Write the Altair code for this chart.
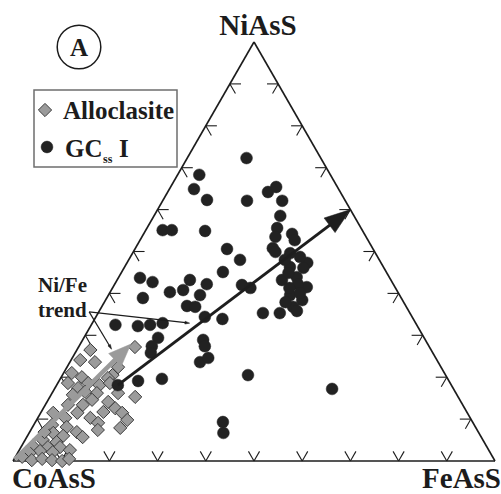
import math
import altair as alt
import pandas as pd

# Plot area = bounding box of the ternary triangle (px)
W, H = 482, 419
PAD = {"left": 13, "top": 42, "right": 6, "bottom": 33}
SX, SY = W / 100.0, H / 100.0
FONT = "Liberation Serif"
INK = "#1c1c1c"

# Alloclasite analyses: mol.% NiAsS and FeAsS (CoAsS = remainder)
allo_ni = [27.2, 26.5, 24.1, 23.6, 22.4, 20.5, 21.0, 20.0, 19.8, 18.6,
           17.4, 18.6, 18.1, 18.6, 16.2, 16.2, 15.3, 14.6, 14.1, 13.4,
           13.4, 12.6, 11.5, 11.5, 11.5, 10.3, 10.3, 9.8, 9.1, 8.6,
           8.1, 6.9, 7.9, 7.4, 6.7, 6.0, 5.7, 5.0, 4.5, 3.6,
           3.3, 3.3, 2.6, 2.4, 1.9, 2.1, 1.0, 0.2, 0.5, 0.2,
           0.0, 0.5, 15.8, 16.5, 11.7, 6.9]
allo_fe = [11.7, 2.8, 1.9, 5.2, 10.6, 10.4, 1.7, 4.3, 9.8, 2.1,
           4.8, 6.3, 8.9, 10.8, 9.3, 13.7, 17.7, 9.1, 12.7, 4.7,
           7.8, 14.9, 16.9, 2.6, 7.6, 5.7, 10.9, 18.8, 13.1, 3.8,
           7.1, 9.8, 18.3, 13.9, 5.0, 7.4, 11.6, 3.7, 6.8, 2.3,
           5.6, 8.1, 10.5, 4.4, 2.5, 7.2, 1.4, 3.8, 5.8, 8.0,
           10.2, 11.4, 4.5, 6.7, 12.9, 3.1]

# GCss I analyses: mol.% NiAsS and FeAsS
gc_ni = [68.3, 64.9, 62.3, 72.3, 62.1, 55.1, 55.1, 54.9, 64.2, 65.4,
         62.1, 58.5, 55.6, 53.5, 50.8, 54.2, 52.7, 50.6, 48.0, 45.1,
         42.7, 43.2, 40.3, 40.8, 42.2, 39.6, 42.0, 41.3, 37.0, 36.8,
         34.4, 33.9, 49.6, 47.3, 48.7, 46.3, 43.2, 43.9, 41.5, 38.4,
         36.8, 35.3, 35.3, 32.2, 32.5, 32.9, 32.5, 43.7, 38.9, 29.4,
         27.4, 25.8, 28.9, 27.4, 23.6, 24.6, 19.1, 19.6, 18.1, 9.3,
         6.7, 20.5, 17.2, 48.0, 46.1, 44.9, 42.2, 39.6, 40.1, 37.9,
         35.8, 41.3, 49.9]
gc_fe = [4.5, 5.1, 9.1, 12.3, 17.5, 3.5, 5.4, 12.4, 20.8, 21.9,
         24.8, 26.2, 27.0, 27.7, 28.5, 30.8, 32.1, 19.1, 23.1, 21.0,
         7.6, 15.1, 12.4, 14.9, 19.1, 19.0, 26.5, 28.6, 17.6, 19.4,
         22.6, 26.5, 32.7, 37.4, 35.2, 34.3, 34.2, 36.9, 40.2, 40.8,
         39.7, 37.7, 34.2, 9.8, 12.2, 14.6, 5.0, 4.5, 7.5, 15.4,
         15.1, 15.7, 25.0, 26.1, 27.0, 28.2, 16.4, 21.1, 12.7, 38.9,
         40.3, 38.5, 57.6, 32.4, 37.2, 34.7, 38.0, 37.7, 39.5, 37.6,
         41.0, 36.7, 29.5]

# Trend arrows: (Ni, Fe) of tail and head
gc_trend = [(18.1, 12.7), (60.0, 40.0)]
allo_trend = [(0.4, 0.2), (27.9, 10.5)]
label_origin = (35.6, -2.0)
label_targets = [(32.9, 20.2), (26.7, 7.1)]

tick_values = [10, 20, 30, 40, 50, 60, 70, 80, 90]
TICK = 2.3  # tick arm length, mol.%


def tern(ni, fe):
    """Ternary composition -> cartesian (x along base, y = NiAsS)."""
    return fe + ni / 2.0, ni


xs = alt.Scale(domain=[0, 100], nice=False, zero=False)
ys = alt.Scale(domain=[0, 100], nice=False, zero=False)
X = lambda f="x": alt.X(f"{f}:Q", scale=xs, axis=None)
Y = lambda f="y": alt.Y(f"{f}:Q", scale=ys, axis=None)


def segs(pairs):
    rows = []
    for (n0, f0), (n1, f1) in pairs:
        x0, y0 = tern(n0, f0)
        x1, y1 = tern(n1, f1)
        rows.append({"x": x0, "y": y0, "x2": x1, "y2": y1})
    return pd.DataFrame(rows)


def rules(df, width, color=INK, cap="butt"):
    return alt.Chart(df).mark_rule(strokeWidth=width, color=color, strokeCap=cap).encode(
        x=X(), y=Y(), x2="x2:Q", y2="y2:Q")


def arrow(tail, head, head_len, width, color, shape, size):
    x0, y0 = tern(*tail)
    x1, y1 = tern(*head)
    dxp, dyp = (x1 - x0) * SX, (y1 - y0) * SY
    L = math.hypot(dxp, dyp)
    ang = math.degrees(math.atan2(dxp, dyp)) % 360
    k = head_len / L
    shaft = pd.DataFrame([{"x": x0, "y": y0,
                           "x2": x1 - (x1 - x0) * k, "y2": y1 - (y1 - y0) * k}])
    tip = pd.DataFrame([{"x": x1, "y": y1}])
    line = rules(shaft, width, color)
    mk = alt.Chart(tip).mark_point(shape=shape, size=size, angle=ang, filled=True,
                                   fill=color, stroke=color, strokeWidth=0.5, opacity=1)
    return line + mk.encode(x=X(), y=Y())


# Triangle frame
frame = rules(segs([((0, 0), (0, 100)), ((0, 0), (100, 0)), ((0, 100), (100, 0))]), 1.6)

# Edge ticks, arms parallel to the other two sides
tick_pairs = []
for t in tick_values:
    base = (0, t)
    tick_pairs += [(base, (TICK, t)), (base, (TICK, t - TICK))]
    left = (t, 0)
    tick_pairs += [(left, (t, TICK)), (left, (t - TICK, TICK))]
    right = (t, 100 - t)
    tick_pairs += [(right, (t, 100 - t - TICK)), (right, (t - TICK, 100 - t))]
ticks = rules(segs(tick_pairs), 1.1)

allo_df = pd.DataFrame([dict(zip(("x", "y"), tern(n, f))) for n, f in zip(allo_ni, allo_fe)])
gc_df = pd.DataFrame([dict(zip(("x", "y"), tern(n, f))) for n, f in zip(gc_ni, gc_fe)])

DIA = dict(shape="diamond", size=175, filled=True, fill="#9b9b9b",
           stroke="#3a3a3a", strokeWidth=1, opacity=1)
DOT = dict(shape="circle", size=140, filled=True, fill="#222222",
           stroke="#222222", strokeWidth=0.5, opacity=1)

allo = alt.Chart(allo_df).mark_point(**DIA).encode(x=X(), y=Y())
gc = alt.Chart(gc_df).mark_point(**DOT).encode(x=X(), y=Y())

gc_arrow = arrow(gc_trend[0], gc_trend[1], 20, 3, "#1e1e1e", "M0,0L-0.7,2L0.7,2Z", 680)
allo_arrow = arrow(allo_trend[0], allo_trend[1], 16, 4.5, "#9a9a9a", "M0,0L-0.8,2L0.8,2Z", 500)
thin = [arrow(label_origin, tgt, 4, 1.2, INK, "M0,0L-0.6,2L0.6,2Z", 22) for tgt in label_targets]

one = alt.Data(values=[{"k": 0}])


def txt(text, x, y, size, align="left", dx=0, dy=0, data_pos=None):
    props = dict(text=text, font=FONT, fontWeight="bold", fontSize=size,
                 align=align, baseline="alphabetic", color=INK, dx=dx, dy=dy)
    if data_pos is not None:
        px, py = tern(*data_pos)
        d = pd.DataFrame([{"x": px, "y": py}])
        return alt.Chart(d).mark_text(**props).encode(x=X(), y=Y())
    return alt.Chart(one).mark_text(**props).encode(x=alt.value(x), y=alt.value(y))


labels = [
    txt("NiAsS", 0, 0, 29, "center", dx=4, dy=-7, data_pos=(100, 0)),
    txt("CoAsS", 0, 0, 29, "left", dx=-1, dy=27, data_pos=(0, 0)),
    txt("FeAsS", 0, 0, 29, "right", dx=6, dy=27, data_pos=(0, 100)),
    txt("Ni/Fe", 25, 250, 21),
    txt("trend", 25, 275, 21),
]

# Panel letter
panel_ring = alt.Chart(one).mark_point(shape="circle", size=1900, filled=False, stroke=INK,
                                       strokeWidth=1.5, opacity=1).encode(
    x=alt.value(66), y=alt.value(5))
panel_letter = txt("A", 66, 14, 25, "center")

# Legend
leg_box = alt.Chart(one).mark_rect(fill="white", stroke="#6e6e6e", strokeWidth=1.5).encode(
    x=alt.value(21), x2=alt.value(164), y=alt.value(48), y2=alt.value(125))
leg_dia = alt.Chart(one).mark_point(**DIA).encode(x=alt.value(32), y=alt.value(68))
leg_dot = alt.Chart(one).mark_point(**DOT).encode(x=alt.value(34), y=alt.value(105))
leg_text = [
    txt("Alloclasite", 50, 77, 25),
    txt("GC", 52, 115, 25),
    txt("ss", 90, 121, 12),
    txt("I", 106, 115, 25),
]

chart = alt.layer(
    frame, ticks, allo, gc, gc_arrow, allo_arrow, *thin, *labels,
    panel_ring, panel_letter, leg_box, leg_dia, leg_dot, *leg_text,
).properties(
    width=W, height=H, padding=PAD, autosize=alt.AutoSizeParams(type="none"),
    background="white",
).configure_view(stroke=None)

chart.save("out.html", embed_options={"renderer": "svg", "actions": False})
